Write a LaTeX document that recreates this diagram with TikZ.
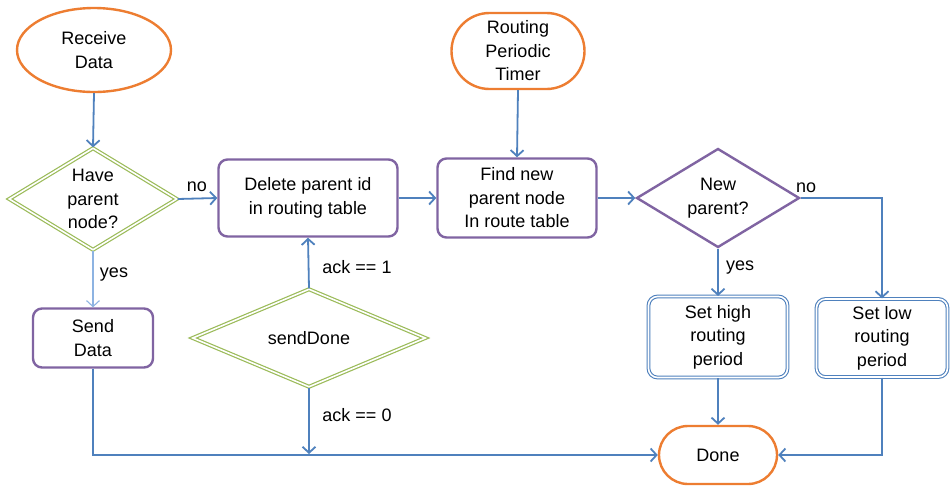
\documentclass[tikz,border=0pt]{standalone}
\usepackage{fontspec}
\setmainfont{Liberation Sans}
\usetikzlibrary{shapes.geometric,arrows.meta}
\definecolor{cOrange}{RGB}{237,125,49}
\definecolor{cPurple}{RGB}{128,100,162}
\definecolor{cGreen}{RGB}{155,187,89}
\definecolor{cBlue}{RGB}{79,129,189}
\definecolor{cLightBlue}{RGB}{141,179,226}
\tikzset{
  every node/.style={font=\fontsize{18}{23.5}\selectfont, align=center},
  terminal/.style={draw=cOrange, line width=2.4pt, fill=white, inner sep=0pt},
  procbox/.style={draw=cPurple, line width=2.4pt, rounded corners=9pt, fill=white, inner sep=0pt},
  setbox/.style={draw=cBlue, line width=1.1pt, double=white, double distance=1.6pt, rounded corners=9pt, inner sep=0pt},
  greendia/.style={diamond, draw=cGreen, line width=1.2pt, double=white, double distance=1.6pt, inner sep=0pt},
  purpdia/.style={diamond, draw=cPurple, line width=2.4pt, inner sep=0pt},
  flow/.style={draw=cBlue, line width=1.8pt, -{Straight Barb[length=6pt,width=13pt]}},
  lbl/.style={inner sep=0pt}
}
\begin{document}
\begin{tikzpicture}[x=1pt,y=1pt]
\useasboundingbox (0,0) rectangle (950,-485);
\fill[white] (0,0) rectangle (950,-485);

% nodes
\node[terminal, ellipse, minimum width=154pt, minimum height=84pt] (rd) at (94,-50) {Receive\\Data};
\node[greendia, minimum width=168pt, minimum height=102pt] (hp) at (93,-199) {};
\node at (hp) {Have\\parent\\node?};
\node[procbox, minimum width=179pt, minimum height=77pt] (del) at (308,-198) {Delete parent id\\in routing table};
\node[procbox, minimum width=159pt, minimum height=79pt] (find) at (517,-198) {Find new\\parent node\\In route table};
\node[terminal, rounded corners=38pt, minimum width=133pt, minimum height=76pt] (timer) at (518,-51) {Routing\\Periodic\\Timer};
\node[purpdia, minimum width=163pt, minimum height=99pt] (np) at (718,-198) {};
\node at (np) {New\\parent?};
\node[setbox, minimum width=139pt, minimum height=81pt] (high) at (718,-337) {Set high\\routing\\period};
\node[setbox, minimum width=131pt, minimum height=78pt] (low) at (882,-338) {Set low\\routing\\period};
\node[terminal, rounded corners=29pt, minimum width=118pt, minimum height=58pt] (done) at (718,-455) {Done};
\node[procbox, minimum width=120pt, minimum height=59pt] (send) at (93,-338) {Send\\Data};
\node[greendia, minimum width=233pt, minimum height=98pt] (sd) at (309,-338) {};
\node at (sd) {sendDone};

% labels
\node[lbl] (lno1) at (197,-187) {no};
\node[lbl] (lyes1) at (114,-275) {yes};
\node[lbl] (lno2) at (806,-188) {no};
\node[lbl] (lyes2) at (740,-268) {yes};
\node[lbl] (lack1) at (357,-267) {ack == 1};
\node[lbl] (lack0) at (357,-415) {ack == 0};

% connectors
\draw[flow] (rd.south) -- (hp.north);
\draw[flow] (hp.east) -- (del.west);
\draw[flow] (del.east) -- (find.west);
\draw[flow] (timer.south) -- (find.north);
\draw[flow] (find.east) -- (np.west);
\draw[flow] (np.east) -| (low.north);
\draw[flow] (np.south) -- (high.north);
\draw[flow] (high.south) -- (done.north);
\draw[flow] (low.south) |- (done.east);
\draw[flow, draw=cLightBlue, line width=1.1pt] (hp.south) -- (send.north);
\draw[flow] (send.south) |- (done.west);
\draw[flow] (sd.north) -- (del.south);
\coordinate (sdend) at ([yshift=1pt]sd.south |- done.west);
\draw[flow] (sd.south) -- (sdend);
\end{tikzpicture}
\end{document}
